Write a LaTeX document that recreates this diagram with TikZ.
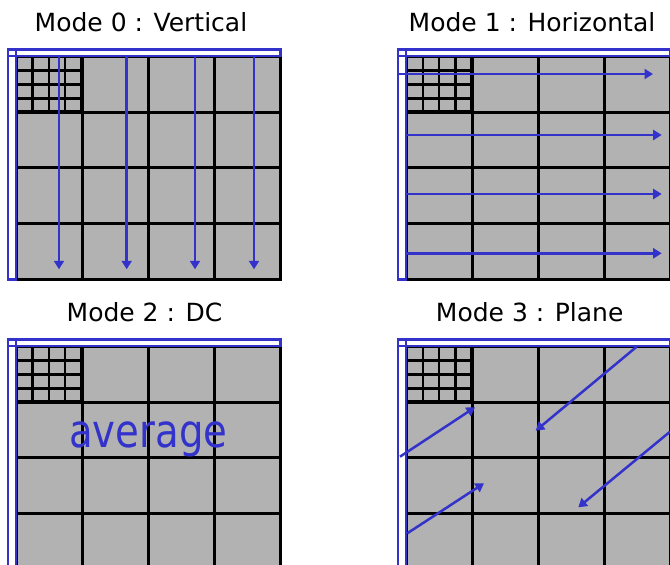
\documentclass[tikz,border=0pt]{standalone}
\usepackage{fontspec}
\setmainfont{DejaVu Sans}
\usepackage{graphicx}
\usetikzlibrary{arrows.meta}
\definecolor{mblue}{RGB}{51,51,204}
\definecolor{mgray}{RGB}{178,178,178}
\newcommand\mbpanel[3]{%
  \begin{scope}[shift={(#1,#2)}]
    \fill[mgray] (0,0) rectangle (264,#3);
    \foreach \r in {1,2,3} \draw[gridline] (0,\r*55.5) -- (264,\r*55.5);
    \foreach \c in {1,2,3} \draw[gridline] (\c*66,0) -- (\c*66,#3);
    \draw[gridline] (0,0) rectangle (264,#3);
    \foreach \i in {1,2,3} {
      \draw[subline] (\i*16.2,0) -- (\i*16.2,55.5);
      \draw[subline] (0,\i*13.9) -- (65,\i*13.9);
    }
    \draw[line width=3.6pt] (65,0) -- (65,55.5) -- (0,55.5);
    \draw[bluebox] (-8.6,-7) rectangle (264,-0.7);
    \draw[bluebox] (-8.6,-7) rectangle (-0.6,#3);
  \end{scope}}
\begin{document}
\begin{tikzpicture}[x=1pt,y=-1pt,
  bluebox/.style={draw=mblue,line width=2.5pt},
  barrow/.style={draw=mblue,line width=2.5pt,-{Triangle[width=10pt,length=8.5pt]}},
  gridline/.style={line width=2.6pt,black},
  subline/.style={line width=2.6pt,black},
  title/.style={anchor=base,font=\fontsize{25}{25}\selectfont,inner sep=0pt}]
\useasboundingbox (0,0) rectangle (670,565);
\clip (0,0) rectangle (670,565);
% titles
\node[title] (t0) at (141,31.5) {Mode 0 : Vertical};
\node[title] (t1) at (532,31.5) {Mode 1 : Horizontal};
\node[title] (t2) at (144.5,321.5) {Mode 2 : DC};
\node[title] (t3) at (529.7,321.5) {Mode 3 : Plane};
% panels
\mbpanel{16.5}{56.7}{222.6}
\mbpanel{406.7}{56.7}{222.6}
\mbpanel{16.5}{346.7}{230}
\mbpanel{406.7}{346.7}{230}
% mode 0 arrows
\foreach \x in {59,126.7,195,254} \draw[barrow] (\x,56.7) -- (\x,269.3);
% mode 1 arrows
\draw[barrow] (397.3,74) -- (653,74);
\foreach \y in {135,194,253.3} \draw[barrow] (406.7,\y) -- (661.7,\y);
% mode 2 text
\node[anchor=base,inner sep=0pt,text=mblue] (avg) at (148.3,447.3)
  {\scalebox{0.84}[1]{\fontsize{46}{46}\selectfont average}};
% mode 3 arrows
\draw[barrow] (400,456.7) -- (475,407.3);
\draw[barrow] (407.3,533.3) -- (484,483.3);
\draw[barrow] (636.7,346.7) -- (535.7,430.7);
\draw[barrow] (670,431.7) -- (578.3,507.3);
\end{tikzpicture}
\end{document}
